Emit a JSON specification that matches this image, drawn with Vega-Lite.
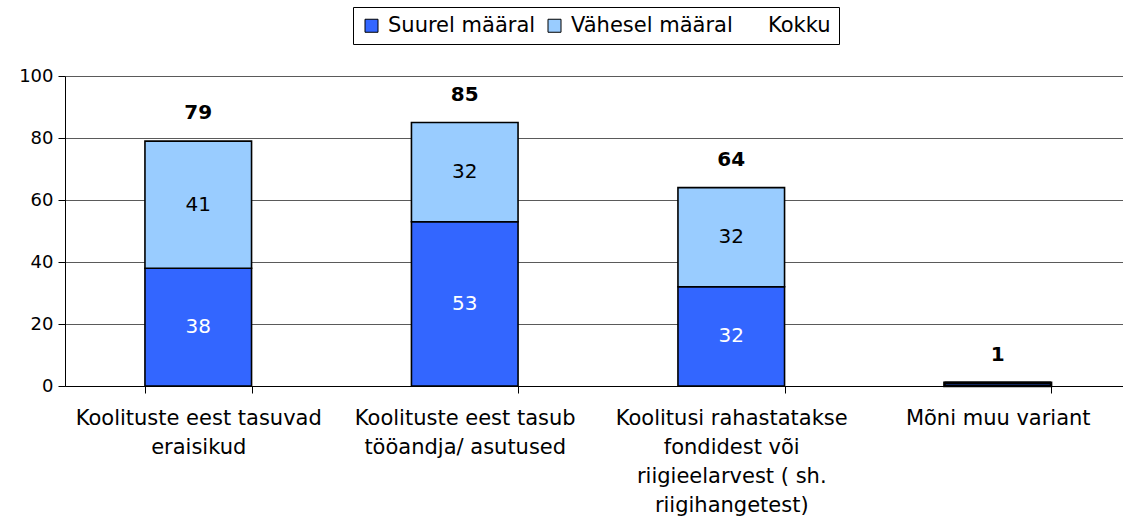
{
  "$schema": "https://vega.github.io/schema/vega-lite/v6.json",
  "width": 1066,
  "height": 310,
  "autosize": {"type": "none"},
  "padding": {"left": 65, "top": 76, "right": 0, "bottom": 143},
  "background": "white",
  "config": {
    "font": "DejaVu Sans",
    "view": {"stroke": null},
    "axis": {"domainColor": "black", "tickColor": "black", "labelColor": "black", "labelFont": "DejaVu Sans", "tickSize": 7, "domainWidth": 1, "tickWidth": 1}
  },
  "datasets": {
    "parts": [
      {"kategooria": "Koolituste eest tasuvad eraisikud", "seeria": "Suurel määral", "vaartus": 38, "jrk": 1},
      {"kategooria": "Koolituste eest tasuvad eraisikud", "seeria": "Vähesel määral", "vaartus": 41, "jrk": 2},
      {"kategooria": "Koolituste eest tasub tööandja/ asutused", "seeria": "Suurel määral", "vaartus": 53, "jrk": 1},
      {"kategooria": "Koolituste eest tasub tööandja/ asutused", "seeria": "Vähesel määral", "vaartus": 32, "jrk": 2},
      {"kategooria": "Koolitusi rahastatakse fondidest või riigieelarvest ( sh. riigihangetest)", "seeria": "Suurel määral", "vaartus": 32, "jrk": 1},
      {"kategooria": "Koolitusi rahastatakse fondidest või riigieelarvest ( sh. riigihangetest)", "seeria": "Vähesel määral", "vaartus": 32, "jrk": 2},
      {"kategooria": "Mõni muu variant", "seeria": "Suurel määral", "vaartus": 1, "jrk": 1},
      {"kategooria": "Mõni muu variant", "seeria": "Vähesel määral", "vaartus": 0, "jrk": 2}
    ],
    "totals": [
      {"kategooria": "Koolituste eest tasuvad eraisikud", "kokku": 79},
      {"kategooria": "Koolituste eest tasub tööandja/ asutused", "kokku": 85},
      {"kategooria": "Koolitusi rahastatakse fondidest või riigieelarvest ( sh. riigihangetest)", "kokku": 64},
      {"kategooria": "Mõni muu variant", "kokku": 1}
    ]
  },
  "encoding": {
    "x": {
      "field": "kategooria",
      "type": "nominal",
      "sort": null,
      "scale": {"paddingInner": 0.6, "paddingOuter": 0.3},
      "axis": {
        "title": null,
        "labelAngle": 0,
        "labelFontSize": 21,
        "labelLineHeight": 29,
        "labelPadding": 14,
        "labelBaseline": "top",
        "tickBand": "extent",
        "labelLimit": 0,
        "labelExpr": "datum.label == 'Koolituste eest tasuvad eraisikud' ? ['Koolituste eest tasuvad', 'eraisikud'] : datum.label == 'Koolituste eest tasub tööandja/ asutused' ? ['Koolituste eest tasub', 'tööandja/ asutused'] : datum.label == 'Mõni muu variant' ? 'Mõni muu variant' : datum.label == 'Koolitusi rahastatakse fondidest või riigieelarvest ( sh. riigihangetest)' ? ['Koolitusi rahastatakse', 'fondidest või', 'riigieelarvest ( sh.', 'riigihangetest)'] : ''"
      }
    }
  },
  "layer": [
    {
      "data": {"name": "parts"},
      "mark": {"type": "bar", "stroke": "black"},
      "encoding": {
        "y": {
          "field": "vaartus",
          "type": "quantitative",
          "stack": "zero",
          "scale": {"domain": [0, 100], "nice": false},
          "axis": {
            "title": null,
            "values": [0, 20, 40, 60, 80, 100],
            "labelFontSize": 18,
            "labelPadding": 5,
            "grid": true,
            "gridColor": "#5a5a5a",
            "gridWidth": 1
          }
        },
        "order": {"field": "jrk", "type": "quantitative"},
        "strokeWidth": {
          "condition": {"test": "datum.vaartus < 3", "value": 2.6},
          "value": 1.6
        },
        "color": {
          "field": "seeria",
          "type": "nominal",
          "scale": {
            "domain": ["Suurel määral", "Vähesel määral", "Kokku"],
            "range": ["#3366ff", "#99ccff", "transparent"]
          },
          "legend": {
            "title": null,
            "orient": "none",
            "legendX": 288,
            "legendY": -69,
            "direction": "horizontal",
            "symbolType": "square",
            "symbolSize": 169,
            "symbolStrokeColor": "black",
            "symbolStrokeWidth": 1,
            "symbolOpacity": 1,
            "labelFontSize": 21,
            "labelFont": "DejaVu Sans",
            "labelColor": "black",
            "labelLimit": 400,
            "labelOffset": 6,
            "columnPadding": 8,
            "strokeColor": "black",
            "fillColor": "white",
            "padding": 8,
            "cornerRadius": 0,
            "encode": {
              "symbols": {
                "update": {
                  "stroke": {"signal": "datum.label === 'Kokku' ? 'transparent' : 'black'"}
                }
              }
            }
          }
        }
      }
    },
    {
      "data": {"name": "parts"},
      "transform": [
        {"stack": "vaartus", "groupby": ["kategooria"], "sort": [{"field": "jrk"}], "as": ["y0", "y1"]},
        {"calculate": "(datum.y0 + datum.y1) / 2", "as": "ymid"},
        {"filter": "datum.vaartus >= 5"}
      ],
      "mark": {"type": "text", "fontSize": 20, "baseline": "middle", "align": "center"},
      "encoding": {
        "y": {"field": "ymid", "type": "quantitative"},
        "text": {"field": "vaartus", "type": "quantitative"},
        "color": {
          "condition": {"test": "datum.seeria == 'Suurel määral'", "value": "white"},
          "value": "black"
        }
      }
    },
    {
      "data": {"name": "totals"},
      "mark": {"type": "text", "fontSize": 20, "fontWeight": "bold", "baseline": "bottom", "align": "center", "dy": -18, "color": "black"},
      "encoding": {
        "y": {"field": "kokku", "type": "quantitative"},
        "text": {"field": "kokku", "type": "quantitative"}
      }
    }
  ]
}
